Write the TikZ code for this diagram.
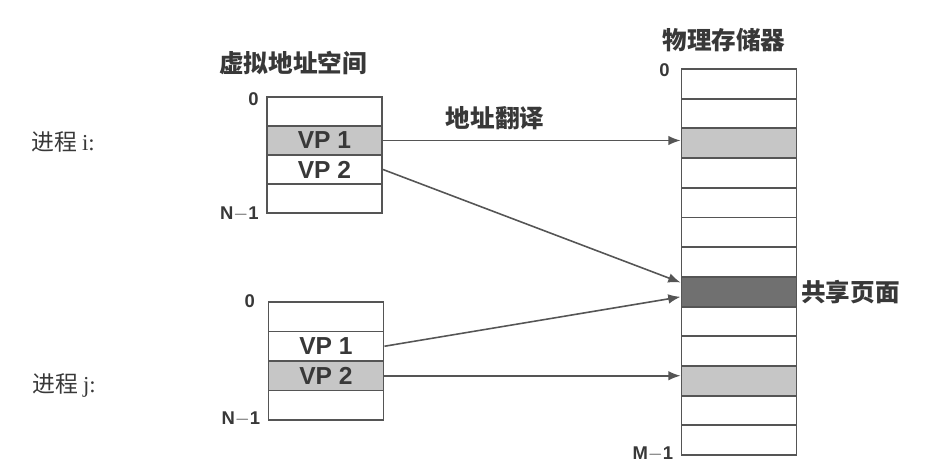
\documentclass[tikz,border=0pt]{standalone}
\usepackage{fontspec}
\setmainfont{Liberation Sans}
\newfontfamily\cjk{Noto Sans CJK SC}
\newfontfamily\serif{Liberation Serif}
\usepackage{xcolor}
\usepackage{tikz}
\usetikzlibrary{arrows.meta}
\definecolor{LineGray}{HTML}{555555}
\definecolor{TextGray}{HTML}{383838}
\definecolor{LightPage}{HTML}{C6C6C6}
\definecolor{DarkPage}{HTML}{707070}

\begin{document}
\begin{tikzpicture}[
  x=0.02cm, y=-0.02cm,
  page/.style={rectangle, draw=LineGray, line width=1.1pt, minimum width=2.3cm, minimum height=#1, inner sep=0pt, text=TextGray, font=\bfseries\fontsize{14}{16}\selectfont},
  page/.default=0.58cm,
  addr/.style={inner sep=1pt, text=TextGray, font=\bfseries\fontsize{10.5}{12}\selectfont},
  title/.style={inner sep=0pt, text=TextGray, font=\cjk\bfseries\fontsize{14}{16}\selectfont},
  proc/.style={inner sep=0pt, text=TextGray, font=\cjk\fontsize{13}{15}\selectfont},
  arrow/.style={-{Latex[length=7pt, width=5.5pt]}, line width=0.9pt, draw=LineGray}
]
\useasboundingbox (0,0) rectangle (942,475);

% virtual address space of process i
\foreach \k/\c/\t in {0/white/{}, 1/LightPage/VP 1, 2/white/VP 2, 3/white/{}}
  \node[page, fill=\c] (vi-\k) at (324.5, {111.5+29*\k}) {\t};

% virtual address space of process j
\foreach \k/\c/\t in {0/white/{}, 1/white/VP 1, 2/LightPage/VP 2, 3/white/{}}
  \node[page=0.59cm, fill=\c] (vj-\k) at (326, {316.75+29.5*\k}) {\t};

% physical memory
\foreach \k/\c in {0/white, 1/white, 2/LightPage, 3/white, 4/white, 5/white, 6/white,
                   7/DarkPage, 8/white, 9/white, 10/LightPage, 11/white, 12/white}
  \node[page=0.594cm, fill=\c] (pm-\k) at (739, {83.85+29.7*\k}) {};

\node[title] (vtitle) at (293,63) {虚拟地址空间};
\node[title] (ptitle) at (724,40) {物理存储器};
\node[title] (trans) at (495,118) {地址翻译};
\node[title, anchor=west] (shared) at ([xshift=2pt]pm-7.east) {共享页面};

\node[proc] (proc-i) at (63,142) {进程 {\serif i:}};
\node[proc] (proc-j) at (64,385) {进程 {\serif j:}};

\node[addr, anchor=east] (vi-zero) at ([xshift=-3pt, yshift=-2pt]vi-0.north west) {0};
\node[addr, anchor=east] (vi-last) at ([xshift=-3pt]vi-3.south west) {N$-$1};
\node[addr, anchor=east] (vj-zero) at ([xshift=-6pt]vj-0.north west) {0};
\node[addr, anchor=east] (vj-last) at ([xshift=-3pt, yshift=1pt]vj-3.south west) {N$-$1};
\node[addr, anchor=east] (pm-zero) at ([xshift=-5pt, yshift=-1pt]pm-0.north west) {0};
\node[addr, anchor=east] (pm-last) at ([xshift=-3pt, yshift=1pt]pm-12.south west) {M$-$1};

\draw[arrow] (vi-1.east) -- (vi-1.east -| pm-2.west);
\draw[arrow] (vi-2.east) -- (pm-7.171);
\draw[arrow] (vj-1.east) -- (pm-7.185);
\draw[arrow] (vj-2.east) -- (vj-2.east -| pm-10.west);
\end{tikzpicture}
\end{document}
